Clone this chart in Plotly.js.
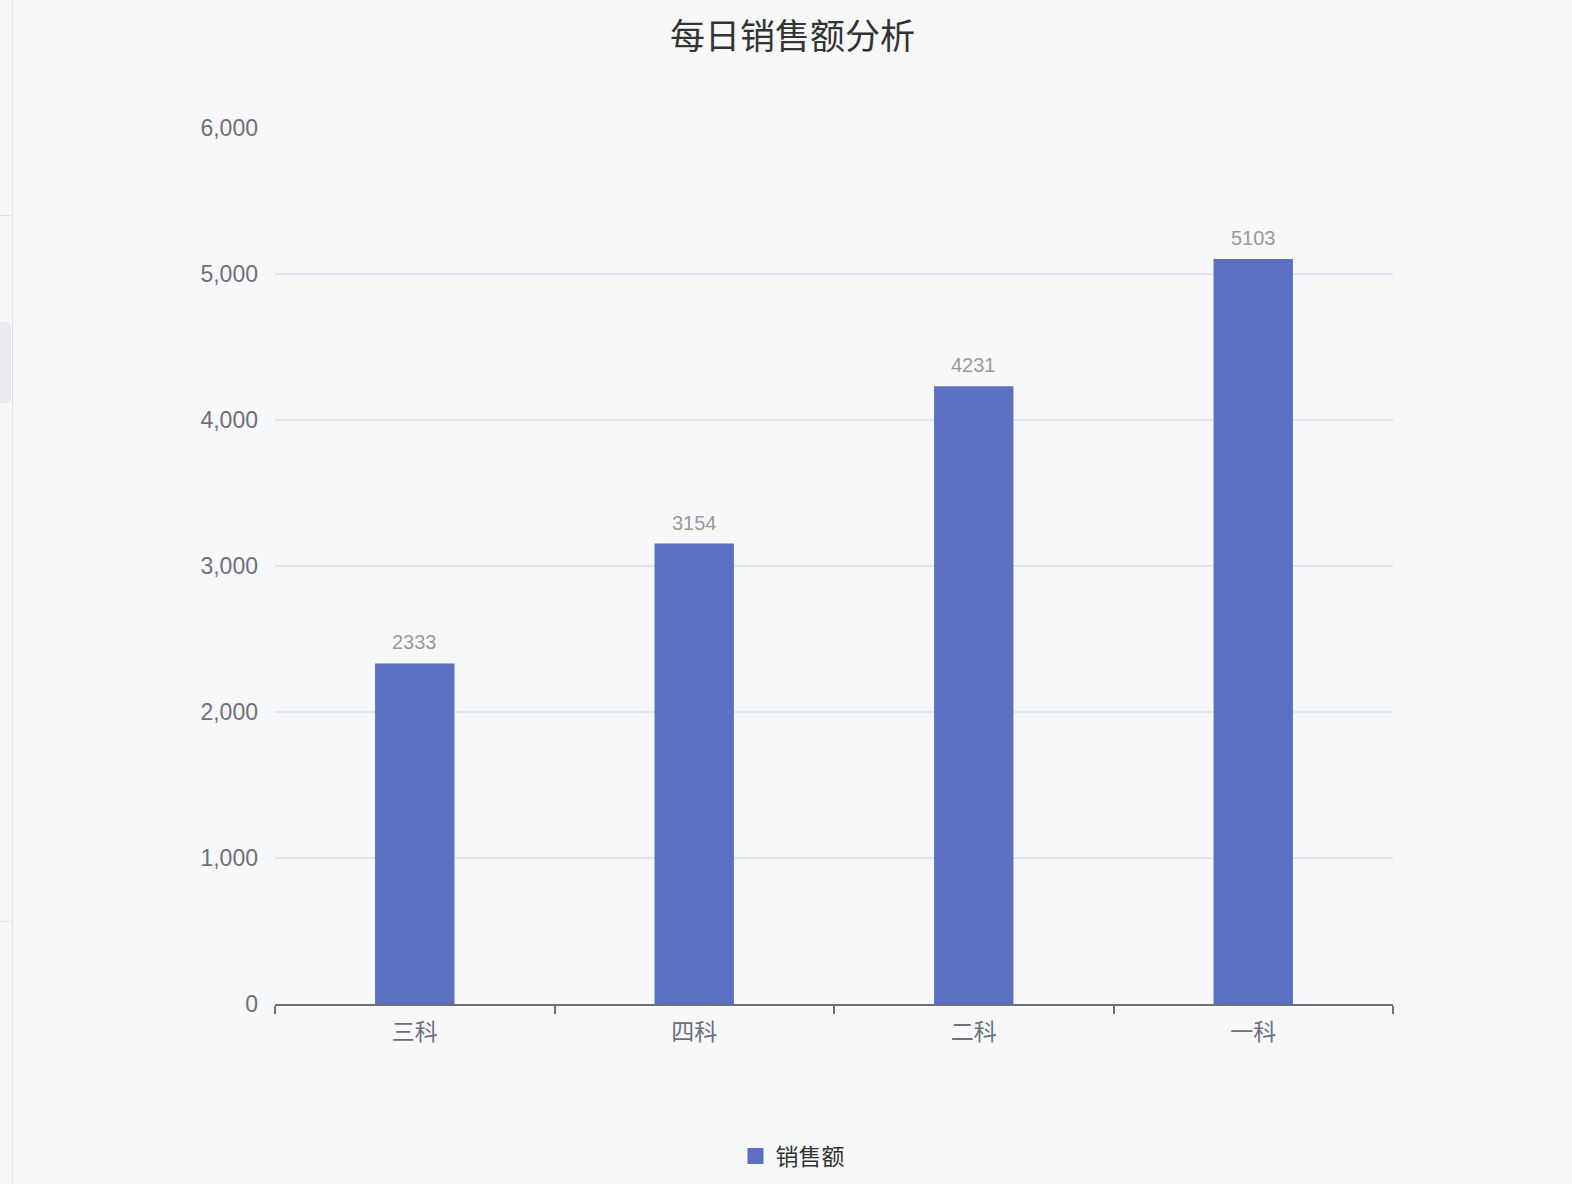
<!DOCTYPE html>
<html>
<head>
<meta charset="utf-8">
<script src="https://cdn.plot.ly/plotly-3.0.1.min.js"></script>
<style>
  html, body { margin: 0; padding: 0; background: #f7f8fa; }
  body { width: 1572px; height: 1184px; position: relative; overflow: hidden; }
  .side { position: absolute; left: 12px; top: 0; width: 2px; height: 1184px; background: #e3e4e7; }
  .sep { position: absolute; left: 0; width: 12px; height: 1px; background: #e3e4e7; }
  .tab { position: absolute; left: 0; top: 322px; width: 11px; height: 81px; background: #e9eaed; border-radius: 0 5px 5px 0; }
  #chart { position: absolute; left: 13px; top: 0; width: 1559px; height: 1184px; }
</style>
</head>
<body>
<div class="side"></div>
<div class="sep" style="top:215px"></div>
<div class="sep" style="top:921px"></div>
<div class="tab"></div>
<div id="chart"></div>
<script>
// 科目与销售额
const subjects = ['三科', '四科', '二科', '一科'];
const sales = [2333, 3154, 4231, 5103];
const seriesName = '销售额';
const yTicks = [0, 1000, 2000, 3000, 4000, 5000, 6000];

const fontFamily = '"Liberation Sans", "Noto Sans CJK SC", sans-serif';
const barColor = '#5b70c1';

var trace = {
  x: subjects,
  y: sales,
  name: seriesName,
  type: 'bar',
  marker: { color: barColor },
  hoverinfo: 'x+y',
  showlegend: false
};

// legend entry only (bigger square swatch than the bar default)
var legendKey = {
  x: [null],
  y: [null],
  name: seriesName,
  type: 'scatter',
  mode: 'markers',
  marker: { symbol: 'square', size: 20, color: barColor },
  hoverinfo: 'skip',
  showlegend: true
};

// value labels above bars
var labels = subjects.map(function (s, i) {
  return {
    x: s, y: sales[i], xref: 'x', yref: 'y',
    text: String(sales[i]),
    showarrow: false, yanchor: 'bottom', yshift: 8,
    font: { family: fontFamily, size: 20, color: '#9a9a9a' }
  };
});

var layout = {
  width: 1559,
  height: 1184,
  paper_bgcolor: '#f7f8fa',
  plot_bgcolor: '#f7f8fa',
  font: { family: fontFamily, color: '#6e7079' },
  margin: { l: 262, r: 179, t: 128, b: 180 },
  title: {
    text: '每日销售额分析',
    font: { family: fontFamily, size: 35, color: '#333333' },
    xref: 'container', x: 0.5, xanchor: 'center',
    yref: 'container', y: 1 - 37 / 1184, yanchor: 'middle'
  },
  bargap: 0.716,
  xaxis: {
    type: 'category',
    showline: true, linecolor: '#6e7079', linewidth: 2,
    ticks: 'outside', tickson: 'boundaries', ticklen: 8, tickwidth: 2, tickcolor: '#6e7079',
    showgrid: false,
    tickfont: { size: 23, color: '#6e7079' },
    ticklabelstandoff: 6
  },
  yaxis: {
    range: [0, 6000],
    tickvals: yTicks,
    ticktext: yTicks.map(function (v) { return v.toLocaleString('en-US'); }),
    showgrid: true, gridcolor: '#e0e6f1', gridwidth: 2,
    zeroline: false, showline: false, ticks: '',
    tickfont: { size: 23, color: '#6e7079' },
    ticklabelstandoff: 16
  },
  legend: {
    orientation: 'h',
    xref: 'container', x: 0.5, xanchor: 'center',
    yref: 'container', y: 1 - 1156 / 1184, yanchor: 'middle',
    font: { family: fontFamily, size: 23, color: '#333333' },
    bgcolor: 'rgba(0,0,0,0)'
  },
  annotations: labels
};

Plotly.newPlot('chart', [trace, legendKey], layout, { displayModeBar: false, staticPlot: true });
</script>
</body>
</html>
